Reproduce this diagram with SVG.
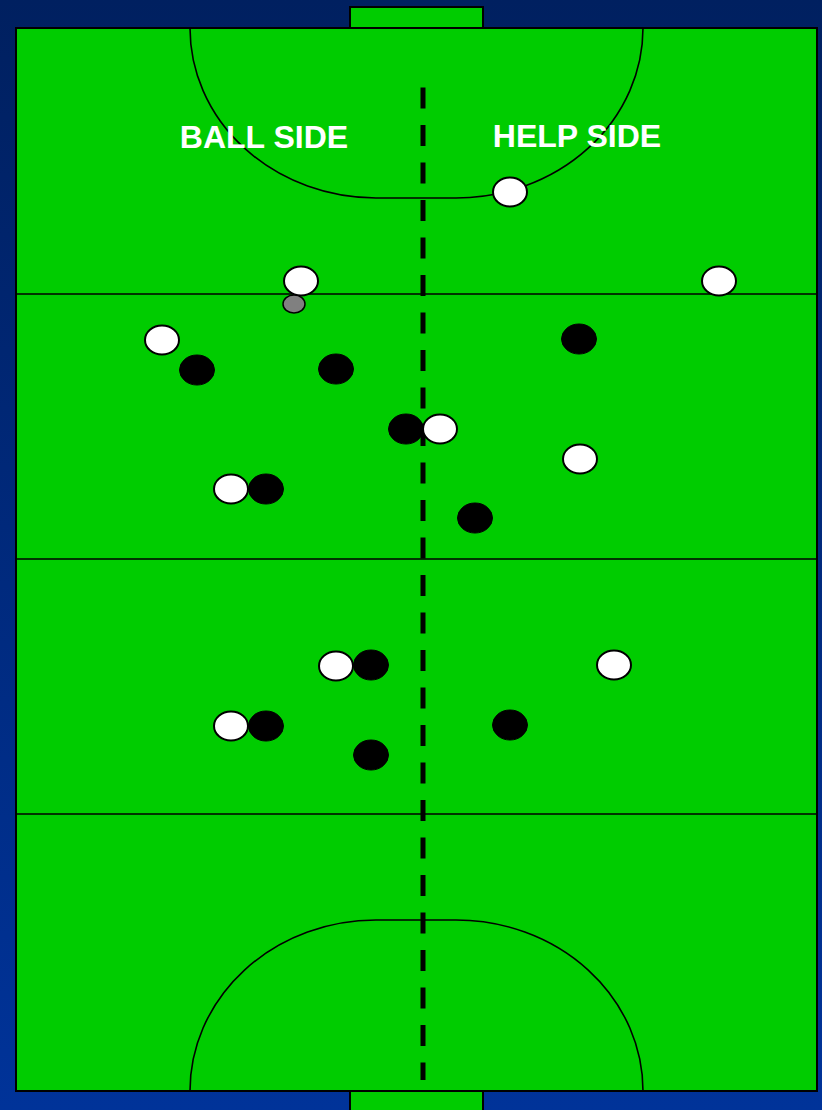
<svg xmlns="http://www.w3.org/2000/svg" width="822" height="1110" viewBox="0 0 822 1110">
<defs>
<linearGradient id="bg" x1="0" y1="0" x2="0" y2="1">
<stop offset="0" stop-color="#002060"/>
<stop offset="1" stop-color="#003399"/>
</linearGradient>
</defs>
<style>
.fld{fill:#00cc00;stroke:#000;stroke-width:2}
.ln{fill:none;stroke:#000;stroke-width:1.6}
.w{fill:#fff;stroke:#000;stroke-width:2}
.b{fill:#000;stroke:#000;stroke-width:1}
.g{fill:#808080;stroke:#000;stroke-width:1.5}
.t{font-family:"Liberation Sans",Arial,sans-serif;font-weight:bold;font-size:32px;fill:#fff;text-anchor:middle}
</style>
<rect width="822" height="1110" fill="url(#bg)"/>
<g id="field">
<rect class="fld" x="350" y="7" width="133" height="21"/>
<rect class="fld" x="350" y="1091" width="133" height="25"/>
<rect class="fld" x="16" y="28" width="801" height="1063"/>
<path class="ln" d="M190,28 A186,170 0 0 0 376,198 L456,198 A187,170 0 0 0 643,28"/>
<path class="ln" d="M190,1091 A186,171 0 0 1 376,920 L456,920 A187,171 0 0 1 643,1091"/>
<line class="ln" x1="16" y1="294" x2="817" y2="294"/>
<line class="ln" x1="16" y1="559" x2="817" y2="559"/>
<line class="ln" x1="16" y1="814" x2="817" y2="814"/>
</g>
<g id="connectors">
<line x1="423" y1="87.5" x2="423" y2="1080" stroke="#000" stroke-width="5" stroke-dasharray="21 16.5"/>
</g>
<g id="labels">
<text class="t" x="264" y="148">BALL SIDE</text>
<text class="t" x="577" y="147">HELP SIDE</text>
</g>
<g id="defenders">
<ellipse class="b" cx="197" cy="370" rx="17.5" ry="15"/>
<ellipse class="b" cx="336" cy="369" rx="17.5" ry="15"/>
<ellipse class="b" cx="579" cy="339" rx="17.5" ry="15"/>
<ellipse class="b" cx="406" cy="429" rx="17.5" ry="15"/>
<ellipse class="b" cx="266" cy="489" rx="17.5" ry="15"/>
<ellipse class="b" cx="475" cy="518" rx="17.5" ry="15"/>
<ellipse class="b" cx="371" cy="665" rx="17.5" ry="15"/>
<ellipse class="b" cx="266" cy="726" rx="17.5" ry="15"/>
<ellipse class="b" cx="371" cy="755" rx="17.5" ry="15"/>
<ellipse class="b" cx="510" cy="725" rx="17.5" ry="15"/>
</g>
<g id="attackers">
<ellipse class="w" cx="510" cy="192" rx="17" ry="14.5"/>
<ellipse class="w" cx="301" cy="281" rx="17" ry="14.5"/>
<ellipse class="w" cx="719" cy="281" rx="17" ry="14.5"/>
<ellipse class="w" cx="162" cy="340" rx="17" ry="14.5"/>
<ellipse class="w" cx="440" cy="429" rx="17" ry="14.5"/>
<ellipse class="w" cx="580" cy="459" rx="17" ry="14.5"/>
<ellipse class="w" cx="231" cy="489" rx="17" ry="14.5"/>
<ellipse class="w" cx="336" cy="666" rx="17" ry="14.5"/>
<ellipse class="w" cx="614" cy="665" rx="17" ry="14.5"/>
<ellipse class="w" cx="231" cy="726" rx="17" ry="14.5"/>
</g>
<g id="ball">
<ellipse class="g" cx="294" cy="304" rx="11" ry="9"/>
</g>
</svg>
